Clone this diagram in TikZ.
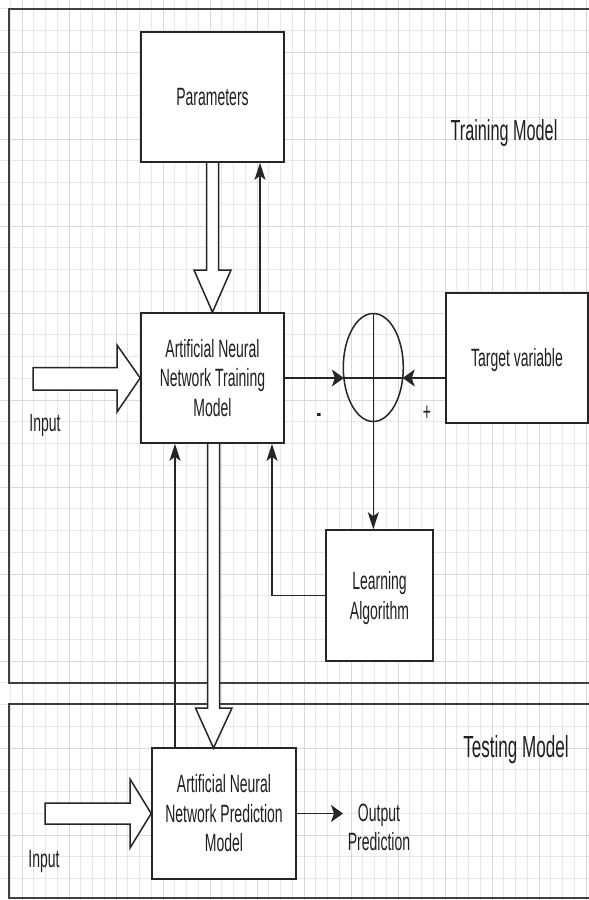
\documentclass[tikz,border=0pt]{standalone}
\usepackage{fontspec}
\setmainfont{Liberation Sans}
\usepackage{graphicx}
\usetikzlibrary{arrows.meta,shapes.geometric,calc}
\newcommand{\sqz}[1]{\raisebox{-3pt}[\height][\depth]{\scalebox{0.56}[1]{\begin{tabular}{@{}c@{}}#1\end{tabular}}}}
\begin{document}
\begin{tikzpicture}[x=1pt,y=-1pt,
  box/.style={draw=black!85,line width=1.6pt,fill=white,inner sep=0pt,rectangle,font=\fontsize{25}{29.5}\selectfont,text=black!88},
  lbl/.style={font=\fontsize{25}{29.5}\selectfont,text=black!88,inner sep=0pt},
  ttl/.style={font=\fontsize{29}{33}\selectfont,text=black!88,inner sep=0pt},
  conn/.style={draw=black!85,line width=1.5pt},
  harr/.style={-{Stealth[length=12pt,width=17pt,inset=3pt]}},
  varr/.style={-{Stealth[length=17pt,width=11pt,inset=4pt]}},
  hollow/.style={draw=black!85,line width=1.5pt,fill=white,line join=miter},
  frame/.style={draw=black!75,line width=2pt},
  gmin/.style={draw=black!9,line width=0.9pt},
  gmaj/.style={draw=black!15,line width=1pt}
  ]
\clip (0,0) rectangle (589,900);
\fill[white] (0,0) rectangle (589,900);
% grid
\foreach \k in {0,...,41} \draw[gmin] (0,{8.5+21.75*\k}) -- (589,{8.5+21.75*\k});
\foreach \k in {0,...,49} \draw[gmin] ({10.3+11.75*\k},0) -- ({10.3+11.75*\k},900);
\foreach \k in {0,...,9} \draw[gmaj] (0,{52+87*\k}) -- (589,{52+87*\k});
\foreach \k in {0,...,12} \draw[gmaj] ({22+47*\k},0) -- ({22+47*\k},900);
% frames
\draw[frame] (9,9) rectangle (620,683);
\draw[frame] (9,704) rectangle (620,898);
% nodes
\node[box,minimum width=143pt,minimum height=130pt] (par) at (212.5,97) {\sqz{Parameters}};
\node[box,minimum width=143pt,minimum height=130pt] (trn) at (212.5,378) {\sqz{Artificial Neural\\Network Training\\Model}};
\node[box,minimum width=142pt,minimum height=130pt] (tgt) at (517,358) {\sqz{Target variable}};
\node[box,minimum width=107pt,minimum height=131pt] (lrn) at (379.5,595.5) {\sqz{Learning\\Algorithm}};
\node[box,minimum width=144pt,minimum height=131pt] (prd) at (224,813.5) {\sqz{Artificial Neural\\Network Prediction\\Model}};
\node[draw=black!85,line width=1.5pt,ellipse,minimum width=60pt,minimum height=108pt,inner sep=0pt] (sum) at (373.3,367.5) {};
\node[ttl] (trt) at (504,131) {\sqz{Training Model}};
\node[ttl,font=\fontsize{30.5}{34}\selectfont] (tst) at (516,748) {\sqz{Testing Model}};
\node[lbl] (in1) at (45,423) {\sqz{Input}};
\node[lbl] (in2) at (44,859) {\sqz{Input}};
\node[lbl] (minus) at (319,413) {\sqz{\textbf{-}}};
\node[lbl] (plus) at (427,412) {\sqz{+}};
\node[lbl] (outl) at (379,827) {\sqz{Output\\Prediction}};
\coordinate (sl) at ($(sum.center)+(-29.4,10.5)$);
\coordinate (sr) at ($(sum.center)+(29.4,10.5)$);
\coordinate (out) at (343,813.5);
% connectors
\draw[conn] (sl) -- (sr);
\draw[conn,varr] (sum.north) -- (sum.north |- lrn.north);
\draw[conn,harr] (trn.east) -- (sl);
\draw[conn,harr] (tgt.west |- sr) -- (sr);
\draw[conn,varr] ([xshift=47.5pt]trn.north) -- ([xshift=47.5pt]par.south);
\draw[conn,varr] ([xshift=-49pt]prd.north) -- ([xshift=-49pt]prd.north |- trn.south);
\draw[conn,varr] (lrn.west) -| ([xshift=59.5pt]trn.south);
\draw[conn,harr] (prd.east) -- (out);
% hollow arrows
\draw[hollow] (206.5,162) -- (218.5,162) -- (218.5,270) -- (231,270) -- (trn.north) -- (194,270) -- (206.5,270) -- cycle;
\draw[hollow] (207.5,443) -- (219.5,443) -- (219.5,708) -- (232,708) -- (213.5,748) -- (195.5,708) -- (207.5,708) -- cycle;
\draw[hollow] (33,367.7) -- (117,367.7) -- (117,345) -- (trn.west) -- (117,412) -- (117,390) -- (33,390) -- cycle;
\draw[hollow] (45,803) -- (130,803) -- (130,779) -- (prd.west) -- (130,848) -- (130,824) -- (45,824) -- cycle;
\end{tikzpicture}
\end{document}
